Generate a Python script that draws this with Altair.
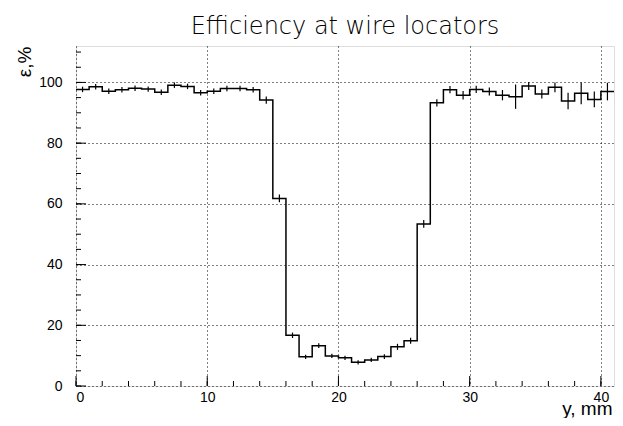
import altair as alt
import pandas as pd

# ---- data ----
bin_edges = list(range(0, 42))  # 0..41, bin width 1 mm
efficiency = [97.7, 98.6, 97.1, 97.6, 98.1, 97.8, 96.8, 99.1, 98.7, 96.6,
              97.1, 98.0, 98.0, 97.6, 94.2, 61.8, 16.7, 9.6, 13.3, 9.9,
              9.3, 7.8, 8.6, 9.7, 12.9, 14.9, 53.4, 93.3, 97.6, 95.8,
              97.7, 97.0, 95.8, 95.3, 98.8, 96.2, 98.4, 93.9, 96.4, 94.4,
              97.0]
errors = [0.9, 0.9, 0.9, 0.9, 0.9, 0.9, 0.9, 0.9, 0.9, 0.9,
          0.9, 0.9, 0.9, 0.9, 1.2, 1.3, 0.9, 0.7, 0.8, 0.7,
          0.7, 0.7, 0.7, 0.8, 1.0, 1.0, 1.3, 1.2, 1.2, 1.4,
          1.2, 1.3, 1.7, 4.0, 1.3, 1.5, 1.6, 2.7, 3.6, 2.6,
          2.9]
x_labels = [0, 10, 20, 30, 40]
x_minor = list(range(0, 41, 2))
y_labels = [0, 20, 40, 60, 80, 100]
y_minor = list(range(0, 111, 5))

W, H = 538, 340

step_df = pd.DataFrame({"x": bin_edges, "y": efficiency + [efficiency[-1]]})
err_df = pd.DataFrame({
    "xc": [e + 0.5 for e in bin_edges[:-1]],
    "lo": [v - e for v, e in zip(efficiency, errors)],
    "hi": [v + e for v, e in zip(efficiency, errors)],
})

xscale = alt.Scale(domain=[0, 41], nice=False, zero=False)
yscale = alt.Scale(domain=[0, 112], nice=False)

xaxis = alt.Axis(values=x_labels, grid=True, gridDash=[1, 3], gridColor="black",
                 gridWidth=1, ticks=False, domain=False, labelFontSize=14,
                 labelColor="black", labelFont="Liberation Sans", labelPadding=4,
                 title="y, mm", titleFontSize=19, titleFontWeight="normal",
                 titleFont="Liberation Sans", titleColor="black",
                 titleAnchor="end", titleAlign="right", titleBaseline="alphabetic",
                 titleX=W - 2, titleY=28, format="d")
yaxis = alt.Axis(values=y_labels, grid=True, gridDash=[1, 3], gridColor="black",
                 gridWidth=1, ticks=False, domain=False, labelFontSize=14,
                 labelColor="black", labelFont="Liberation Sans", labelPadding=14,
                 title="ε,%", titleFontSize=19, titleFontWeight="normal",
                 titleFont="Liberation Sans", titleColor="black",
                 titleAngle=270, titleAlign="right", titleBaseline="middle",
                 titleX=-52, titleY=0, format="d")

hist = alt.Chart(step_df).mark_line(interpolate="step-after", color="black",
                                    strokeWidth=1.5).encode(
    x=alt.X("x:Q", scale=xscale, axis=xaxis),
    y=alt.Y("y:Q", scale=yscale, axis=yaxis),
)

errbars = alt.Chart(err_df).mark_rule(color="black", strokeWidth=1.2).encode(
    x=alt.X("xc:Q", scale=xscale),
    y=alt.Y("lo:Q", scale=yscale),
    y2="hi:Q",
)

xminor = alt.Chart(pd.DataFrame({"t": x_minor})).mark_rule(color="black", strokeWidth=1).encode(
    x=alt.X("t:Q", scale=xscale), y=alt.value(H), y2=alt.value(H - 5))
xmajor = alt.Chart(pd.DataFrame({"t": x_labels})).mark_rule(color="black", strokeWidth=1).encode(
    x=alt.X("t:Q", scale=xscale), y=alt.value(H), y2=alt.value(H - 10))
yminor = alt.Chart(pd.DataFrame({"t": y_minor})).mark_rule(color="black", strokeWidth=1).encode(
    y=alt.Y("t:Q", scale=yscale), x=alt.value(0), x2=alt.value(5))
ymajor = alt.Chart(pd.DataFrame({"t": y_labels})).mark_rule(color="black", strokeWidth=1).encode(
    y=alt.Y("t:Q", scale=yscale), x=alt.value(0), x2=alt.value(10))

chart = alt.layer(xminor, xmajor, yminor, ymajor, errbars, hist).properties(
    width=W, height=H,
    title=alt.TitleParams("Efficiency at wire locators", fontSize=24,
                          font="DejaVu Sans", fontWeight=200,
                          color="black", anchor="middle", baseline="alphabetic",
                          frame="group", offset=-12),
    autosize=alt.AutoSizeParams(type="none"),
    padding={"left": 68, "top": 38, "right": 1, "bottom": 32},
).configure_view(stroke="black", strokeWidth=1.5).configure(background="white")

chart.save("out.html", embed_options={"renderer": "svg", "actions": False})
